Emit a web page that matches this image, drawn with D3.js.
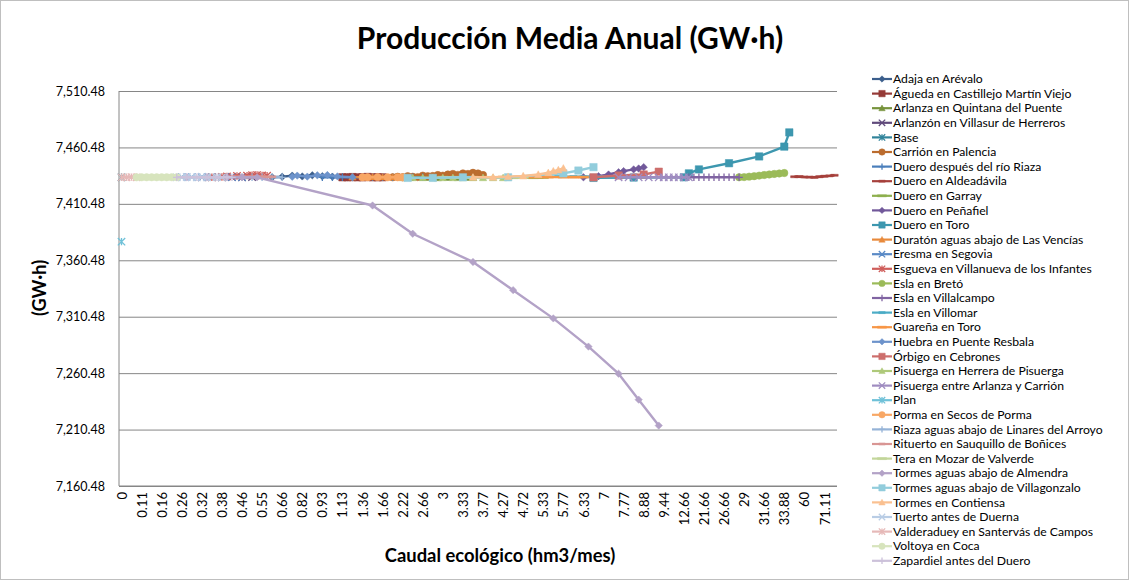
<!DOCTYPE html>
<html>
<head>
<meta charset="utf-8">
<script src="https://cdnjs.cloudflare.com/ajax/libs/d3/7.8.5/d3.min.js"></script>
<style>
  body { margin: 0; background: #fff; }
  text { font-family: Lato, "DejaVu Sans", sans-serif; fill: #000; }
</style>
</head>
<body>
<div id="chart"></div>
<script>
// caudal ecológico categories (hm3/mes), only every 4th one gets a label
var categories = [0, 0.02, 0.05, 0.08, 0.11, 0.12, 0.13, 0.15, 0.16, 0.18, 0.2, 0.22, 0.26, 0.27, 0.29, 0.3,
  0.32, 0.33, 0.35, 0.36, 0.38, 0.4, 0.42, 0.44, 0.46, 0.48, 0.5, 0.53, 0.55, 0.58, 0.6, 0.63,
  0.66, 0.7, 0.74, 0.78, 0.82, 0.85, 0.88, 0.9, 0.93, 0.98, 1.03, 1.08, 1.13, 1.18, 1.24, 1.3,
  1.36, 1.43, 1.5, 1.58, 1.66, 1.8, 1.94, 2.08, 2.22, 2.33, 2.44, 2.55, 2.66, 2.75, 2.83, 2.92,
  3, 3.08, 3.16, 3.25, 3.33, 3.44, 3.55, 3.66, 3.77, 3.88, 4, 4.13, 4.27, 4.38, 4.5, 4.61,
  4.72, 4.88, 5.03, 5.18, 5.33, 5.44, 5.55, 5.66, 5.77, 5.91, 6.05, 6.19, 6.33, 6.5, 6.66, 6.83,
  7, 7.2, 7.39, 7.58, 7.77, 8.05, 8.33, 8.6, 8.88, 9.02, 9.16, 9.3, 9.44, 10.27, 11.11, 11.88,
  12.66, 15, 17.33, 19.5, 21.66, 23, 24.33, 25.5, 26.66, 27.33, 27.9, 28.5, 29, 29.7, 30.33, 31,
  31.66, 32.2, 32.77, 33.33, 33.88, 38, 44, 52, 60, 63, 65.55, 68.33, 71.11, 75, 84.44];

var yTicks = [7160.48, 7210.48, 7260.48, 7310.48, 7360.48, 7410.48, 7460.48, 7510.48];

var seriesNames = ['Adaja en Arévalo', 'Águeda en Castillejo Martín Viejo', 'Arlanza en Quintana del Puente',
  'Arlanzón en Villasur de Herreros', 'Base', 'Carrión en Palencia', 'Duero después del río Riaza',
  'Duero en Aldeadávila', 'Duero en Garray', 'Duero en Peñafiel', 'Duero en Toro',
  'Duratón aguas abajo de Las Vencías', 'Eresma en Segovia', 'Esgueva en Villanueva de los Infantes',
  'Esla en Bretó', 'Esla en Villalcampo', 'Esla en Villomar', 'Guareña en Toro', 'Huebra en Puente Resbala',
  'Órbigo en Cebrones', 'Pisuerga en Herrera de Pisuerga', 'Pisuerga entre Arlanza y Carrión', 'Plan',
  'Porma en Secos de Porma', 'Riaza aguas abajo de Linares del Arroyo', 'Rituerto en Sauquillo de Boñices',
  'Tera en Mozar de Valverde', 'Tormes aguas abajo de Almendra', 'Tormes aguas abajo de Villagonzalo',
  'Tormes en Contiensa', 'Tuerto antes de Duerna', 'Valderaduey en Santervás de Campos', 'Voltoya en Coca',
  'Zapardiel antes del Duero'];

// [caudal, GW·h] per river
var adaja = [[0.6, 7434], [0.66, 7434.5], [0.74, 7435.5], [0.82, 7434.8], [0.88, 7435.8], [0.93, 7435], [1.03, 7434.6], [1.13, 7434.2], [1.18, 7434]];
var agueda = [[1.13, 7434], [1.18, 7434], [1.24, 7434.2], [1.3, 7434], [1.36, 7434], [1.43, 7434.3], [1.5, 7434], [1.58, 7434], [1.66, 7434]];
var arlanza = [[2.66, 7433.8], [2.75, 7433.8], [2.92, 7433.6], [3.08, 7433.8], [3.25, 7433.7], [3.44, 7433.8], [3.55, 7433.8]];
var arlanzon = [[0.32, 7434], [0.35, 7434.2], [0.38, 7434], [0.42, 7434.3], [0.46, 7434], [0.5, 7434.2]];
var base = [[0, 7434]];
var carrion = [[1.94, 7434], [2.08, 7434.5], [2.22, 7434], [2.33, 7435], [2.44, 7434.5], [2.55, 7434.2], [2.66, 7435.5], [2.75, 7435],
  [2.83, 7435.2], [2.92, 7436], [3, 7435.5], [3.08, 7436.5], [3.16, 7437], [3.25, 7436.2], [3.33, 7437.5], [3.44, 7437], [3.55, 7438], [3.66, 7437.4], [3.77, 7436]];
var dueroRiaza = [[0.93, 7434], [1.03, 7434], [1.13, 7434], [1.24, 7434], [1.36, 7434], [1.5, 7434], [1.66, 7434], [1.94, 7434], [2.22, 7434], [2.44, 7434], [2.66, 7434]];
var aldeadavila = [[44, 7434.5], [52, 7434.6], [60, 7434.3], [63, 7434.2], [65.55, 7434], [68.33, 7434.5], [71.11, 7435], [75, 7435.3], [84.44, 7435.8]];
var garray = [[3.77, 7433.7], [4, 7433.7], [4.27, 7433.8], [4.5, 7433.7], [4.72, 7433.8], [5.03, 7433.7], [5.33, 7433.8]];
var penafiel = [[6.33, 7434], [6.83, 7435], [7.2, 7436.5], [7.58, 7438.5], [7.77, 7439.5], [8.33, 7441], [8.6, 7441.8], [8.88, 7443]];
var toro = [[6.66, 7433.5], [8.33, 7433.8], [12.66, 7434], [15, 7437.5], [19.5, 7441], [27.33, 7446.5], [31, 7452.5], [33.88, 7461.2], [38, 7473.8]];
var duraton = [[1.24, 7434.2], [1.36, 7434.2], [1.5, 7434.3], [1.66, 7434.2], [1.94, 7434.2], [2.22, 7434.2]];
var eresma = [[0.26, 7434.2], [0.29, 7434.2], [0.32, 7434.3], [0.35, 7434.2], [0.38, 7434.2], [0.42, 7434.3], [0.46, 7434.2]];
var esgueva = [[0.35, 7434], [0.38, 7434.3], [0.4, 7434.8], [0.44, 7435.2], [0.48, 7435.5], [0.5, 7435.8], [0.53, 7436], [0.55, 7435.6], [0.58, 7435.4]];
var eslaBreto = [[28.5, 7434], [29, 7434.2], [29.7, 7434.6], [30.33, 7435], [31, 7435.5], [31.66, 7436], [32.2, 7436.5], [32.77, 7437], [33.33, 7437.4], [33.88, 7437.8]];
var eslaVillalcampo = [[15, 7434], [17.33, 7434], [19.5, 7434], [21.66, 7434], [23, 7434], [24.33, 7434], [25.5, 7434], [26.66, 7434], [27.33, 7434], [27.9, 7434], [28.5, 7434]];
var eslaVillomar = [[5.33, 7434.6], [5.66, 7434.6], [6.05, 7434.6], [6.33, 7434.5], [6.66, 7434.6], [7, 7434.6], [7.39, 7434.6], [7.77, 7434.6]];
var guarena = [[4.27, 7434.2], [4.61, 7434.2], [4.88, 7434.2], [5.18, 7434.2], [5.44, 7434.2], [5.77, 7434.2], [6.05, 7434.2], [6.33, 7434.2]];
var huebra = [[0.74, 7434.5], [0.78, 7435.5], [0.85, 7434.6], [0.9, 7435.8], [0.98, 7436], [1.08, 7434.8], [1.24, 7434]];
var orbigo = [[6.66, 7434], [7.58, 7435.6], [8.88, 7436.5], [9.3, 7439]];
var pisuergaHerrera = [[2.22, 7433.6], [2.44, 7433.6], [2.66, 7433.6], [2.83, 7433.6], [3, 7433.6], [3.16, 7433.6], [3.33, 7433.6], [3.55, 7433.6], [3.77, 7433.6], [4, 7433.6], [4.27, 7433.6]];
var pisuergaArlanza = [[7.58, 7434], [8.05, 7434], [8.6, 7434], [9.02, 7434], [9.3, 7434], [9.44, 7434], [10.27, 7434], [11.11, 7434], [11.88, 7434], [12.66, 7434], [15, 7434]];
var plan = [[0, 7377]];
var porma = [[1.36, 7434], [1.43, 7434], [1.58, 7434.2], [1.8, 7434], [2.08, 7434], [2.22, 7434]];
var riaza = [[0.46, 7434], [0.5, 7434], [0.55, 7434], [0.6, 7434], [0.66, 7434]];
var rituerto = [[0.42, 7434.5], [0.46, 7434.5], [0.5, 7434.5], [0.55, 7434.5], [0.6, 7434.5]];
var tera = [[3, 7434], [3.25, 7434], [3.55, 7434], [3.88, 7434], [4.27, 7434], [4.61, 7434], [4.72, 7434]];
var tormesAlmendra = [[0.27, 7434], [0.33, 7434], [0.4, 7434], [0.46, 7434], [0.53, 7434], [1.5, 7409], [2.44, 7384], [3.55, 7359],
  [4.5, 7334], [5.55, 7309], [6.5, 7284], [7.58, 7260], [8.6, 7237], [9.3, 7214]];
var tormesVillagonzalo = [[2.33, 7433.5], [2.83, 7433.5], [3.33, 7434], [4.38, 7434], [5.77, 7437.5], [6.19, 7440], [6.66, 7443]];
var tormesContiensa = [[3.55, 7434], [4, 7434], [4.38, 7434.6], [4.72, 7435.2], [5.18, 7436.5], [5.44, 7438], [5.55, 7439.5], [5.66, 7440.5], [5.77, 7442]];
var tuerto = [[0.22, 7434], [0.26, 7434], [0.27, 7434.3], [0.29, 7434], [0.3, 7434], [0.32, 7434.3], [0.33, 7434], [0.35, 7434], [0.36, 7434.2], [0.38, 7434]];
var valderaduey = [[0, 7434], [0.02, 7434], [0.05, 7434.2], [0.08, 7434]];
var voltoya = [[0.08, 7434], [0.11, 7434], [0.12, 7434], [0.13, 7434], [0.15, 7434], [0.16, 7434], [0.18, 7434], [0.2, 7434], [0.22, 7434]];
var zapardiel = [[0.22, 7434], [0.27, 7434], [0.3, 7434], [0.33, 7434], [0.36, 7434], [0.4, 7434], [0.42, 7434]];

var seriesValues = [adaja, agueda, arlanza, arlanzon, base, carrion, dueroRiaza, aldeadavila, garray, penafiel, toro,
  duraton, eresma, esgueva, eslaBreto, eslaVillalcampo, eslaVillomar, guarena, huebra, orbigo, pisuergaHerrera,
  pisuergaArlanza, plan, porma, riaza, rituerto, tera, tormesAlmendra, tormesVillagonzalo, tormesContiensa,
  tuerto, valderaduey, voltoya, zapardiel];

var seriesColors = ['#3B5E8C', '#953A37', '#77933C', '#604A7B', '#31849B', '#BB6C2E', '#4A7EBB', '#A6403C',
  '#8EB04E', '#71589A', '#3D97AF', '#E88A3C', '#5A8AC6', '#CF5E5B', '#9BBB59', '#8064A2', '#4BACC6',
  '#F79646', '#6D93CB', '#CD6E6C', '#AEC97A', '#9F8CC0', '#6FC1D8', '#F8A765', '#95B3D7', '#D99694',
  '#C3D69B', '#B3A2C7', '#92CDDC', '#FAC090', '#B9CDE5', '#E6B9B8', '#D7E4BD', '#CCC1DA'];

var markerCycle = ['diamond', 'square', 'triangle', 'x', 'star', 'circle', 'plus', 'dash', 'longdash'];

var width = 1129, height = 580;
var plotLeft = 119, plotRight = 837, plotTop = 91, plotBottom = 486;

var svg = d3.select('#chart').append('svg')
    .attr('width', width)
    .attr('height', height);

// chart area border
svg.append('rect')
    .attr('x', 0.5).attr('y', 0.5)
    .attr('width', width - 1).attr('height', height - 1)
    .attr('fill', '#fff')
    .attr('stroke', '#bfbfbf');

var x = d3.scalePoint().domain(categories).range([plotLeft, plotRight]).padding(0.5);
var y = d3.scaleLinear().domain([yTicks[0], yTicks[yTicks.length - 1]]).range([plotBottom, plotTop]);

// GRID + Y AXIS
var yAxis = d3.axisLeft(y).tickValues(yTicks).tickFormat(d3.format(',.2f')).tickSize(-(plotRight - plotLeft)).tickPadding(14);
var gy = svg.append('g').attr('transform', 'translate(' + plotLeft + ',0)').call(yAxis);
gy.select('.domain').remove();
gy.selectAll('.tick line').attr('stroke', '#868686');
gy.selectAll('.tick text').attr('font-size', '12.5px');

svg.append('line')
    .attr('x1', plotLeft).attr('x2', plotLeft).attr('y1', plotTop).attr('y2', plotBottom)
    .attr('stroke', '#868686');

// X AXIS (labels only, every 4th category)
var xAxis = d3.axisBottom(x).tickValues(categories.filter(function(d, i){ return i % 4 === 0; })).tickSize(0);
var gx = svg.append('g').attr('transform', 'translate(0,' + plotBottom + ')').call(xAxis);
gx.select('.domain').remove();
gx.selectAll('.tick text')
    .attr('font-size', '13px')
    .attr('text-anchor', 'end')
    .attr('transform', 'rotate(-90)')
    .attr('x', -6)
    .attr('y', 0)
    .attr('dy', '0.35em');

svg.append('line')
    .attr('x1', plotLeft).attr('x2', plotRight).attr('y1', plotBottom).attr('y2', plotBottom)
    .attr('stroke', '#868686');

// markers
function markerPath(type, r){
    switch(type){
        case 'diamond': return 'M0,' + (-r) + 'L' + r + ',0L0,' + r + 'L' + (-r) + ',0Z';
        case 'square': return 'M' + (-r) + ',' + (-r) + 'h' + 2 * r + 'v' + 2 * r + 'h' + (-2 * r) + 'Z';
        case 'triangle': return 'M0,' + (-r) + 'L' + r + ',' + r * 0.8 + 'L' + (-r) + ',' + r * 0.8 + 'Z';
        case 'x': return 'M' + (-r) + ',' + (-r) + 'L' + r + ',' + r + 'M' + (-r) + ',' + r + 'L' + r + ',' + (-r);
        case 'star': return 'M' + (-r) + ',' + (-r) + 'L' + r + ',' + r + 'M' + (-r) + ',' + r + 'L' + r + ',' + (-r) + 'M0,' + (-r) + 'V' + r;
        case 'circle': return 'M' + (-r) + ',0A' + r + ',' + r + ' 0 1,0 ' + r + ',0A' + r + ',' + r + ' 0 1,0 ' + (-r) + ',0Z';
        case 'plus': return 'M' + (-r) + ',0H' + r + 'M0,' + (-r) + 'V' + r;
        case 'dash': return 'M' + (-r) + ',-1h' + 2 * r + 'v2h' + (-2 * r) + 'Z';
        default: return 'M' + (-r * 1.4) + ',-1h' + 2.8 * r + 'v2h' + (-2.8 * r) + 'Z';
    }
}
function isStroked(type){ return type === 'x' || type === 'star' || type === 'plus'; }

function drawMarker(g, type, color, r){
    g.append('path')
        .attr('d', markerPath(type, r))
        .attr('fill', isStroked(type) ? 'none' : color)
        .attr('stroke', color)
        .attr('stroke-width', isStroked(type) ? 1.3 : 0.5);
}

// SERIES
var line = d3.line()
    .x(function(d){ return x(d[0]); })
    .y(function(d){ return y(d[1]); });

var plot = svg.append('g');
for(var i = 0; i < seriesValues.length; i++){
    var color = seriesColors[i];
    var marker = markerCycle[i % markerCycle.length];
    var g = plot.append('g');
    if(seriesValues[i].length > 1)
        g.append('path')
            .attr('d', line(seriesValues[i]))
            .attr('fill', 'none')
            .attr('stroke', color)
            .attr('stroke-width', 2.4)
            .attr('stroke-linejoin', 'round');
    seriesValues[i].forEach(function(d){
        var m = g.append('g').attr('transform', 'translate(' + x(d[0]) + ',' + y(d[1]) + ')');
        drawMarker(m, marker, color, 3.7);
    });
}

// LEGEND
var legend = svg.append('g').attr('transform', 'translate(872,79)');
seriesNames.forEach(function(name, i){
    var item = legend.append('g').attr('transform', 'translate(0,' + i * 14.6 + ')');
    item.append('line')
        .attr('x1', 0).attr('x2', 20).attr('y1', 0).attr('y2', 0)
        .attr('stroke', seriesColors[i])
        .attr('stroke-width', 2.2);
    var m = item.append('g').attr('transform', 'translate(10,0)');
    drawMarker(m, markerCycle[i % markerCycle.length], seriesColors[i], 3.2);
    item.append('text')
        .attr('x', 21)
        .attr('y', 0)
        .attr('dy', '0.35em')
        .attr('font-size', '12.2px')
        .text(name);
});

// TITLES
svg.append('text')
    .attr('x', 570).attr('y', 49)
    .attr('text-anchor', 'middle')
    .attr('font-size', '30px')
    .attr('font-weight', 'bold')
    .text('Producción Media Anual (GW·h)');

svg.append('text')
    .attr('x', 500).attr('y', 562)
    .attr('text-anchor', 'middle')
    .attr('font-size', '18.4px')
    .attr('font-weight', 'bold')
    .text('Caudal ecológico (hm3/mes)');

svg.append('text')
    .attr('transform', 'translate(46,288) rotate(-90)')
    .attr('text-anchor', 'middle')
    .attr('font-size', '18px')
    .attr('font-weight', 'bold')
    .text('(GW·h)');
</script>
</body>
</html>
